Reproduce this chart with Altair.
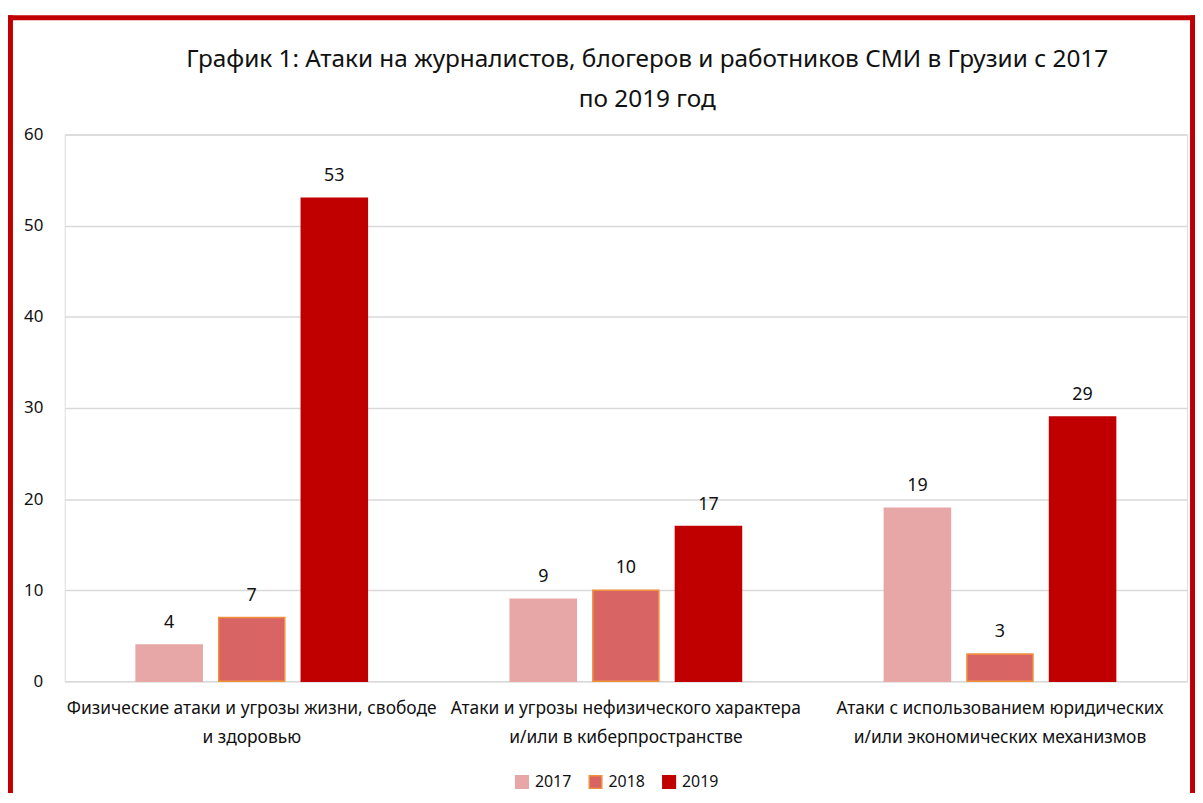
import altair as alt
import pandas as pd

cat_lines = [
    ["Физические атаки и угрозы жизни, свободе", "и здоровью"],
    ["Атаки и угрозы нефизического характера", "и/или в киберпространстве"],
    ["Атаки с использованием юридических", "и/или экономических механизмов"],
]
categories = ["\n".join(l) for l in cat_lines]
years = ["2017", "2018", "2019"]
v2017 = [4, 9, 19]
v2018 = [7, 10, 3]
v2019 = [53, 17, 29]
fill_colors = ["#E8A7A7", "#D86464", "#C00000"]
stroke_colors = ["#E8A7A7", "#F0913E", "#C00000"]
title_lines = ["График 1: Атаки на журналистов, блогеров и работников СМИ в Грузии с 2017",
               "по 2019 год"]
y_ticks = [0, 10, 20, 30, 40, 50, 60]

rows = []
for yr, vals in zip(years, [v2017, v2018, v2019]):
    for c, v in zip(categories, vals):
        rows.append({"cat": c, "year": yr, "value": v})
df = pd.DataFrame(rows)

FONT = "Noto Sans"
W, H = 1129, 550

x_enc = alt.X("cat:N", sort=categories,
              scale=alt.Scale(paddingInner=0, paddingOuter=0),
              axis=alt.Axis(title=None, labelAngle=0, domain=False, ticks=False,
                            labelExpr="split(datum.label, '\\n')",
                            labelFontSize=17.5, labelLineHeight=30, labelPadding=18,
                            labelBaseline="top", labelColor="#111", labelFont=FONT,
                            labelLimit=0))
xo_enc = alt.XOffset("year:N", sort=years,
                     scale=alt.Scale(paddingInner=0.2, paddingOuter=0.865))
y_enc = alt.Y("value:Q", scale=alt.Scale(domain=[0, 60], nice=False),
              axis=alt.Axis(title=None, values=y_ticks, domain=False, ticks=False,
                            grid=True, gridColor="#D9D9D9", gridWidth=1.5,
                            labelFontSize=17, labelPadding=22, labelColor="#111",
                            labelFont=FONT))

leg = dict(title=None, orient="none", direction="horizontal",
           legendX=452, legendY=643, symbolType="square",
           symbolSize=160, symbolStrokeWidth=1.5,
           labelFontSize=16, labelFont=FONT, labelColor="#111",
           columnPadding=14, labelOffset=5)

bars = alt.Chart(df).mark_bar(strokeWidth=1.5).encode(
    x=x_enc, xOffset=xo_enc, y=y_enc,
    color=alt.Color("year:N", sort=years,
                    scale=alt.Scale(domain=years, range=fill_colors),
                    legend=alt.Legend(**leg)),
    stroke=alt.Stroke("year:N", sort=years,
                      scale=alt.Scale(domain=years, range=stroke_colors),
                      legend=alt.Legend(**leg)),
)

labels = alt.Chart(df).mark_text(fontSize=18, font=FONT, dy=-17, baseline="alphabetic",
                                 color="#111").encode(
    x=alt.X("cat:N", sort=categories), xOffset=alt.XOffset("year:N", sort=years),
    y="value:Q", text="value:Q")

one = pd.DataFrame({"k": [0]})
title = alt.Chart(one).mark_text(fontSize=24.5, font=FONT, color="#111",
                                 baseline="alphabetic", align="center",
                                 lineHeight=40).encode(
    x=alt.value(586), y=alt.value(-68), text=alt.value(title_lines))

left_b = alt.Chart(one).mark_rule(color="#C00000", strokeWidth=5).encode(
    x=alt.value(-54.5), y=alt.value(-120), y2=alt.value(800))
top_b = alt.Chart(one).mark_rule(color="#C00000", strokeWidth=5).encode(
    x=alt.value(-57), x2=alt.value(1137), y=alt.value(-117.5))
right_b = alt.Chart(one).mark_rule(color="#C00000", strokeWidth=5).encode(
    x=alt.value(1134.5), y=alt.value(-120), y2=alt.value(800))

chart = alt.layer(bars, labels, title, left_b, top_b, right_b).properties(
    width=W, height=H,
    autosize=alt.AutoSizeParams(type="none"),
    padding={"left": 57, "top": 125, "right": 8, "bottom": 110},
).configure_view(stroke=None).configure(background="white")

chart.save("out.html", embed_options={"renderer": "svg", "actions": False})
